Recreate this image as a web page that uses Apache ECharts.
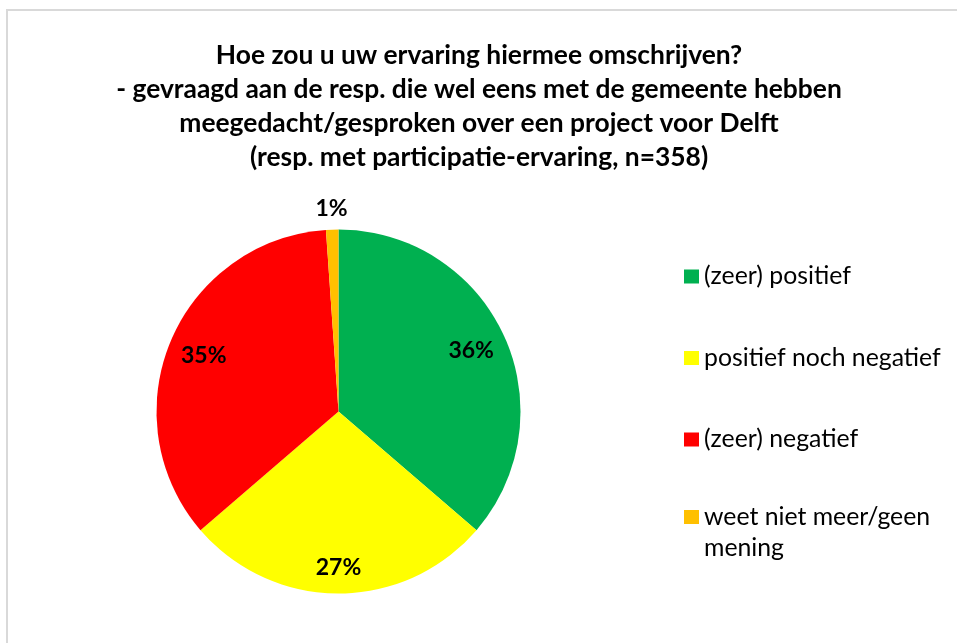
<!DOCTYPE html>
<html>
<head>
<meta charset="utf-8">
<script src="https://cdn.jsdelivr.net/npm/echarts@6/dist/echarts.min.js"></script>
<style>
  html, body { margin: 0; padding: 0; background: #fff; overflow: hidden; }
  #chart { width: 957px; height: 643px; }
</style>
</head>
<body>
<div id="chart"></div>
<script>
var dom = document.getElementById("chart");
var myChart = echarts.init(dom);

var categories = ['(zeer) positief', 'positief noch negatief', '(zeer) negatief', 'weet niet meer/geen mening'];
var values = [36.3, 27.4, 35.2, 1.1];
var colors = ['#00B050', '#FFFF00', '#FF0000', '#FFC000'];

var titleText = 'Hoe zou u uw ervaring hiermee omschrijven?\n' +
    '- gevraagd aan de resp. die wel eens met de gemeente hebben\n' +
    'meegedacht/gesproken over een project voor Delft\n' +
    '(resp. met participatie-ervaring, n=358)';

var FONT = 'Lato';
var CX = 338.5, CY = 411.5, R = 182;

var pieData = categories.map(function (name, i) {
    return {name: name, value: values[i], itemStyle: {color: colors[i]}};
});

function pctLabel(p) {
    return Math.round(p.value) + '%';
}

var labelStyle = {
    fontFamily: FONT,
    fontSize: 23,
    fontWeight: 'bold',
    color: '#000'
};

// labeldata voor de overlay-ringen (onzichtbaar, alleen tekst)
function overlayData() {
    return pieData.map(function (d, i) {
        var item = {name: d.name, value: d.value};
        // Excel zet het 27%-label iets verder naar buiten
        if (i === 1) item.label = {offset: [0, 10]};
        return item;
    });
}

var option = {
    backgroundColor: '#fff',
    animation: false,
    graphic: [{
        type: 'rect',
        shape: {x: 7, y: 10, width: 1000, height: 700},
        style: {fill: 'none', stroke: '#d9d9d9', lineWidth: 2},
        silent: true
    }],
    title: {
        text: titleText,
        left: 479,
        top: 38,
        textAlign: 'center',
        padding: 0,
        textStyle: {
            fontFamily: FONT,
            fontSize: 26.4,
            fontWeight: 'bold',
            color: '#000',
            lineHeight: 34
        }
    },
    legend: [{
        orient: 'vertical',
        left: 684,
        top: 264,
        padding: 0,
        itemGap: 56.5,
        itemWidth: 15,
        itemHeight: 14,
        icon: 'rect',
        selectedMode: false,
        data: categories.slice(0, 3),
        textStyle: {fontFamily: FONT, fontSize: 24.8, color: '#000', lineHeight: 24}
    }, {
        orient: 'vertical',
        left: 684,
        top: 470.5,
        padding: 0,
        itemWidth: 15,
        itemHeight: 14,
        icon: 'rect',
        selectedMode: false,
        data: categories.slice(3),
        formatter: function (name) {
            return '\nweet niet meer/geen\nmening';
        },
        textStyle: {fontFamily: FONT, fontSize: 24.8, color: '#000', lineHeight: 31}
    }],
    series: [{
        // de taart zelf
        name: 'ervaring',
        type: 'pie',
        center: [CX, CY],
        radius: [0, R],
        startAngle: 90,
        clockwise: true,
        silent: true,
        label: {show: false},
        labelLine: {show: false},
        itemStyle: {borderWidth: 0},
        data: pieData
    }, {
        // binnenlabels, iets naar buiten geschoven
        type: 'pie',
        center: [CX, CY],
        radius: [104, R],
        startAngle: 90,
        silent: true,
        itemStyle: {color: 'transparent', borderWidth: 0},
        label: {
            show: true,
            position: 'inside',
            formatter: function (p) { return p.dataIndex < 3 ? pctLabel(p) : ''; },
            ...labelStyle
        },
        labelLine: {show: false},
        data: overlayData()
    }, {
        // label van het kleine segment, net buiten de taart
        type: 'pie',
        center: [CX, CY],
        radius: [R, R + 36],
        startAngle: 90,
        silent: true,
        itemStyle: {color: 'transparent', borderWidth: 0},
        label: {
            show: true,
            position: 'inside',
            formatter: function (p) { return p.dataIndex === 3 ? pctLabel(p) : ''; },
            ...labelStyle
        },
        labelLine: {show: false},
        data: pieData.map(function (d) { return {name: d.name, value: d.value}; })
    }]
};

myChart.setOption(option);
</script>
</body>
</html>
